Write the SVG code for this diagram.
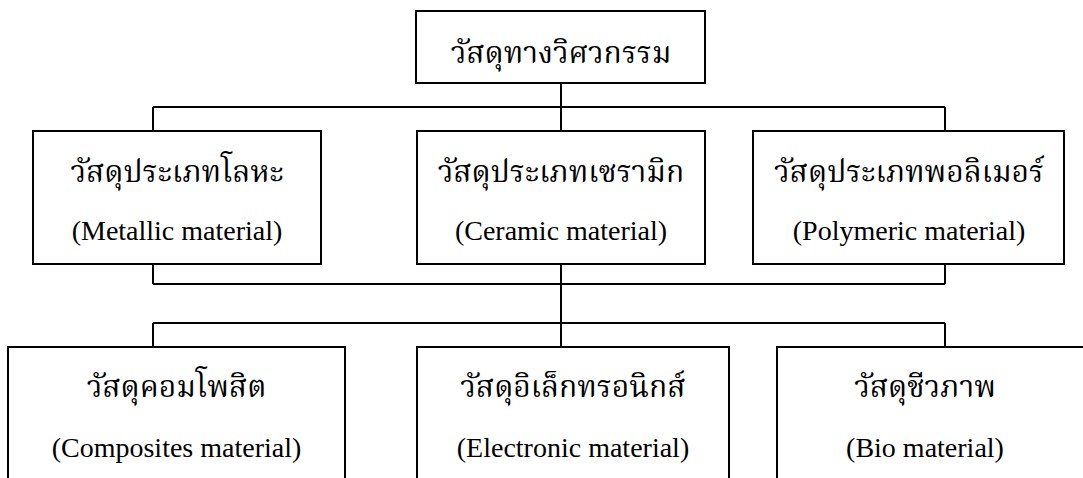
<svg xmlns="http://www.w3.org/2000/svg" width="1083" height="478" viewBox="0 0 1083 478">
<style>
.box{fill:#fff;stroke:#000;stroke-width:2}
.conn{fill:none;stroke:#000;stroke-width:2}
.th{font-family:"Liberation Serif","Noto Serif Thai","Noto Sans Thai",serif;font-size:30px;fill:#000;text-anchor:middle}
.en{font-family:"Liberation Serif","Times New Roman",serif;font-size:28px;fill:#000;text-anchor:middle}
</style>
<rect width="1083" height="478" fill="#fff"/>
<g id="connectors">
<path class="conn" d="M561 83V131M153 107H945M153 107V131M945 107V131"/>
<path class="conn" d="M153 264V284M945 264V284M153 284H945M561 264V347"/>
<path class="conn" d="M153 323H945M153 323V347M945 323V347"/>
</g>
<g id="root"><rect class="box" x="416" y="11" width="289" height="72"/><text class="th" x="561" y="63">วัสดุทางวิศวกรรม</text></g>
<g id="metallic"><rect class="box" x="33" y="131" width="288" height="133"/><text class="th" x="177" y="182">วัสดุประเภทโลหะ</text><text class="en" x="177" y="240">(Metallic material)</text></g>
<g id="ceramic"><rect class="box" x="417" y="131" width="288" height="133"/><text class="th" x="561" y="182">วัสดุประเภทเซรามิก</text><text class="en" x="561" y="240">(Ceramic material)</text></g>
<g id="polymeric"><rect class="box" x="753" y="131" width="311" height="133"/><text class="th" x="909" y="182">วัสดุประเภทพอลิเมอร์</text><text class="en" x="909" y="240">(Polymeric material)</text></g>
<g id="composites"><rect class="box" x="8" y="347" width="337" height="160"/><text class="th" x="176.5" y="397">วัสดุคอมโพสิต</text><text class="en" x="176.5" y="457">(Composites material)</text></g>
<g id="electronic"><rect class="box" x="417" y="347" width="312" height="160"/><text class="th" x="573" y="397">วัสดุอิเล็กทรอนิกส์</text><text class="en" x="573" y="457">(Electronic material)</text></g>
<g id="bio"><rect class="box" x="777" y="347" width="320" height="160"/><text class="th" x="925" y="397">วัสดุชีวภาพ</text><text class="en" x="925" y="457">(Bio material)</text></g>
</svg>
